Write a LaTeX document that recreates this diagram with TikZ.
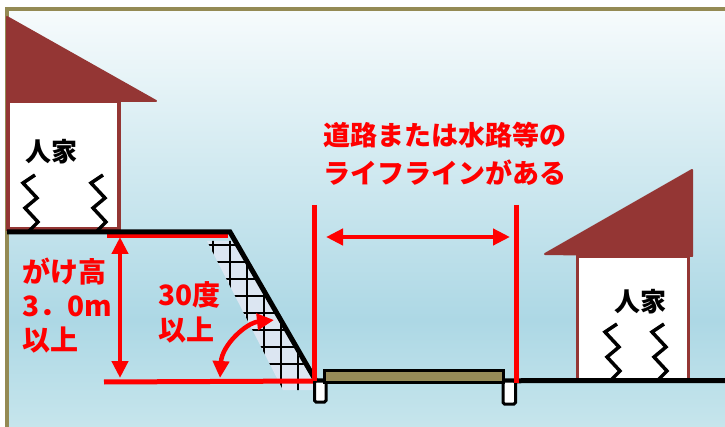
\documentclass[tikz,border=0pt]{standalone}
\usepackage{fontspec}
\usepackage{tikz}
\usetikzlibrary{positioning}
\usetikzlibrary{arrows.meta}
\newfontfamily\jpfont{Noto Sans CJK JP}
\definecolor{roof brown}{RGB}{148,54,52}
\definecolor{frame olive}{RGB}{148,138,84}
\definecolor{road olive}{RGB}{150,139,88}
\definecolor{slope blue}{RGB}{220,230,242}
\definecolor{sky top}{RGB}{246,251,252}
\definecolor{sky mid}{RGB}{173,216,229}
\definecolor{sky low}{RGB}{198,229,236}
\def\leftroof{(7,17) -- (156,101) -- (7,101) -- cycle}
\def\rightroof{(692,170) -- (545,254) -- (692,256) -- cycle}
\def\slopeband{(207,241) -- (235,241) -- (318,390) -- (283,390) -- cycle}
\def\zigzag{-- ++(-12,8) -- ++(14,15) -- ++(-12,10) -- ++(13,14) -- ++(-10,10)}
\tikzset{roof/.style={fill=roof brown, draw=roof brown, line width=2pt, line join=round},
    wall/.style={fill=white, draw=roof brown, line width=3.5pt},
    quake/.style={draw=black, line width=3.5pt},
    ground/.style={draw=black, line width=5pt},
    redline/.style={draw=red, line width=5pt},
    measure/.style={redline, line width=4.5pt, {Triangle[length=17pt,width=16pt]}-{Triangle[length=17pt,width=16pt]}},
    redtext/.style={text=red, inner sep=0pt, align=left, font=\jpfont\bfseries\fontsize{27}{38}\selectfont},
    housename/.style={inner sep=0pt, font=\jpfont\bfseries\fontsize{26}{30}\selectfont},
    footing/.style={fill=white, draw=black, line width=3pt, rounded corners=1.5pt}}

\begin{document}
\begin{tikzpicture}[x=1pt, y=-1pt]
    \useasboundingbox (0,0) rectangle (725,427);
    % sky and frame
    \shade[top color=sky top, bottom color=sky mid] (8,11) rectangle (725,320);
    \shade[top color=sky mid, bottom color=sky low] (8,320) rectangle (725,427);
    \draw[frame olive, line width=4pt] (6.5,432) |- (730,9.5);
    % houses
    \draw[roof] \leftroof;
    \draw[wall] (8,101) rectangle (119,229);
    \draw[roof] \rightroof;
    \draw[wall] (577.5,256) rectangle (688.5,380);
    \node[housename] (lefthome) at (51,152) {人家};
    \node[housename] (righthome) at (640,302) {人家};
    \draw[quake] (35,175) \zigzag;
    \draw[quake] (103,175) \zigzag;
    \draw[quake] (617,324) \zigzag;
    \draw[quake] (664,324) \zigzag;
    % slope face
    \begin{scope}
        \clip \slopeband;
        \fill[slope blue] \slopeband;
        \foreach \k in {0,...,9} {
            \draw[black, line width=1.5pt] (200,245+17*\k) -- (330,245+17*\k);
            \draw[black, line width=1.5pt] (213+17*\k,240) -- (213+17*\k,400);
        }
    \end{scope}
    \coordinate (cliff top) at (230,232);
    \coordinate (cliff toe) at (316,381);
    \coordinate (cliff edge) at (107,236);
    \coordinate (slope start) at (228,236);
    \coordinate (base left) at (104,382);
    \draw[redline] (cliff edge) -- (slope start);
    \draw[redline] (base left) -- (cliff toe);
    \draw[ground] (7,232) -- (cliff top) -- (cliff toe) -- (725,380.5);
    % road
    \draw[footing] (314.5,381) rectangle (326,402);
    \draw[footing] (503,381) rectangle (515.5,404);
    \draw[black, line width=3pt, fill=road olive] (324.5,370.5) rectangle (503,382.5);
    % measures
    \coordinate (post1 top) at (314,205);
    \coordinate (post1 foot) at (314,381);
    \coordinate (post2 top) at (516,205);
    \coordinate (post2 foot) at (516,383);
    \draw[redline] (post1 top) -- (post1 foot);
    \draw[redline] (post2 top) -- (post2 foot);
    \coordinate (width left) at (326,237);
    \coordinate (width right) at (510,237);
    \draw[measure] (width left) -- (width right);
    \coordinate (height top) at (120,237);
    \coordinate (height foot) at (120,378);
    \draw[measure] (height top) -- (height foot);
    \coordinate (angle foot) at (220,378);
    \coordinate (angle face) at (274,320);
    \draw[measure] (angle foot) .. controls (222,345) and (246,323) .. (angle face);
    % labels
    \node[redtext, anchor=west] (lifeline) at (323,154) {道路または水路等の\\ライフラインがある};
    \node[redtext, anchor=west, font=\jpfont\bfseries\fontsize{28}{34}\selectfont] (cliffheight) at (22,306) {がけ高\\3．0m\\以上};
    \node[redtext, anchor=west, font=\jpfont\bfseries\fontsize{28}{35}\selectfont] (anglenote) at (158,312) {30度\\以上};
\end{tikzpicture}
\end{document}
